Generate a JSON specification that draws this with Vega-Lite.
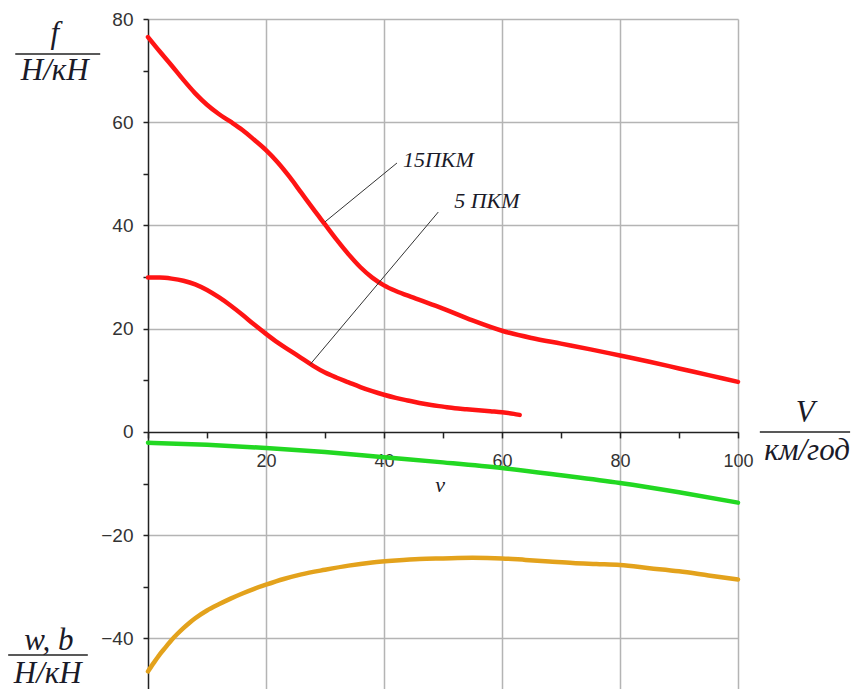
{
  "$schema": "https://vega.github.io/schema/vega-lite/v6.json",
  "width": 590,
  "height": 671,
  "autosize": {"type": "none"},
  "padding": {"left": 148, "top": 19, "right": 118, "bottom": 0},
  "background": "white",
  "view": {"stroke": null},
  "datasets": {
    "curves": [
      {"series": "f15", "x": 0, "y": 76.5}, {"series": "f15", "x": 2, "y": 73.7}, {"series": "f15", "x": 4, "y": 71.0}, {"series": "f15", "x": 6, "y": 68.2}, {"series": "f15", "x": 8, "y": 65.6}, {"series": "f15", "x": 10, "y": 63.4}, {"series": "f15", "x": 12, "y": 61.6}, {"series": "f15", "x": 14, "y": 60.1}, {"series": "f15", "x": 16, "y": 58.5}, {"series": "f15", "x": 18, "y": 56.6}, {"series": "f15", "x": 20, "y": 54.6}, {"series": "f15", "x": 22, "y": 52.2}, {"series": "f15", "x": 24, "y": 49.4}, {"series": "f15", "x": 26, "y": 46.3}, {"series": "f15", "x": 28, "y": 43.2}, {"series": "f15", "x": 30, "y": 40.2}, {"series": "f15", "x": 32, "y": 37.2}, {"series": "f15", "x": 34, "y": 34.4}, {"series": "f15", "x": 36, "y": 31.9}, {"series": "f15", "x": 38, "y": 29.9}, {"series": "f15", "x": 40, "y": 28.4}, {"series": "f15", "x": 42, "y": 27.3}, {"series": "f15", "x": 45, "y": 26.0}, {"series": "f15", "x": 50, "y": 23.9}, {"series": "f15", "x": 55, "y": 21.6}, {"series": "f15", "x": 60, "y": 19.6}, {"series": "f15", "x": 65, "y": 18.2}, {"series": "f15", "x": 70, "y": 17.1}, {"series": "f15", "x": 75, "y": 16.0}, {"series": "f15", "x": 80, "y": 14.8}, {"series": "f15", "x": 85, "y": 13.6}, {"series": "f15", "x": 90, "y": 12.3}, {"series": "f15", "x": 95, "y": 11.0}, {"series": "f15", "x": 100, "y": 9.7},
      {"series": "f5", "x": 0, "y": 29.9}, {"series": "f5", "x": 2, "y": 29.9}, {"series": "f5", "x": 4, "y": 29.7}, {"series": "f5", "x": 6, "y": 29.3}, {"series": "f5", "x": 8, "y": 28.6}, {"series": "f5", "x": 10, "y": 27.5}, {"series": "f5", "x": 12, "y": 26.1}, {"series": "f5", "x": 14, "y": 24.5}, {"series": "f5", "x": 16, "y": 22.7}, {"series": "f5", "x": 18, "y": 20.8}, {"series": "f5", "x": 20, "y": 19.0}, {"series": "f5", "x": 22, "y": 17.3}, {"series": "f5", "x": 24, "y": 15.8}, {"series": "f5", "x": 26, "y": 14.3}, {"series": "f5", "x": 28, "y": 12.8}, {"series": "f5", "x": 30, "y": 11.5}, {"series": "f5", "x": 32, "y": 10.5}, {"series": "f5", "x": 34, "y": 9.6}, {"series": "f5", "x": 36, "y": 8.7}, {"series": "f5", "x": 38, "y": 7.9}, {"series": "f5", "x": 40, "y": 7.2}, {"series": "f5", "x": 42, "y": 6.6}, {"series": "f5", "x": 44, "y": 6.1}, {"series": "f5", "x": 46, "y": 5.6}, {"series": "f5", "x": 48, "y": 5.2}, {"series": "f5", "x": 50, "y": 4.9}, {"series": "f5", "x": 52, "y": 4.6}, {"series": "f5", "x": 54, "y": 4.4}, {"series": "f5", "x": 56, "y": 4.2}, {"series": "f5", "x": 58, "y": 4.0}, {"series": "f5", "x": 60, "y": 3.8}, {"series": "f5", "x": 62, "y": 3.5}, {"series": "f5", "x": 63, "y": 3.3},
      {"series": "w", "x": 0, "y": -2.1}, {"series": "w", "x": 10, "y": -2.5}, {"series": "w", "x": 20, "y": -3.1}, {"series": "w", "x": 30, "y": -3.9}, {"series": "w", "x": 40, "y": -4.9}, {"series": "w", "x": 50, "y": -5.9}, {"series": "w", "x": 60, "y": -7.0}, {"series": "w", "x": 70, "y": -8.4}, {"series": "w", "x": 80, "y": -9.9}, {"series": "w", "x": 90, "y": -11.7}, {"series": "w", "x": 100, "y": -13.7},
      {"series": "b", "x": 0, "y": -46.4}, {"series": "b", "x": 1, "y": -44.7}, {"series": "b", "x": 2, "y": -43.1}, {"series": "b", "x": 3, "y": -41.7}, {"series": "b", "x": 4, "y": -40.3}, {"series": "b", "x": 5, "y": -39.1}, {"series": "b", "x": 6, "y": -38.0}, {"series": "b", "x": 7, "y": -37.0}, {"series": "b", "x": 8, "y": -36.1}, {"series": "b", "x": 10, "y": -34.6}, {"series": "b", "x": 12, "y": -33.4}, {"series": "b", "x": 14, "y": -32.3}, {"series": "b", "x": 16, "y": -31.3}, {"series": "b", "x": 18, "y": -30.4}, {"series": "b", "x": 20, "y": -29.6}, {"series": "b", "x": 23, "y": -28.5}, {"series": "b", "x": 26, "y": -27.6}, {"series": "b", "x": 30, "y": -26.7}, {"series": "b", "x": 34, "y": -25.9}, {"series": "b", "x": 38, "y": -25.3}, {"series": "b", "x": 42, "y": -24.9}, {"series": "b", "x": 46, "y": -24.6}, {"series": "b", "x": 50, "y": -24.5}, {"series": "b", "x": 55, "y": -24.4}, {"series": "b", "x": 60, "y": -24.5}, {"series": "b", "x": 64, "y": -24.8}, {"series": "b", "x": 68, "y": -25.1}, {"series": "b", "x": 72, "y": -25.4}, {"series": "b", "x": 76, "y": -25.6}, {"series": "b", "x": 80, "y": -25.8}, {"series": "b", "x": 85, "y": -26.4}, {"series": "b", "x": 90, "y": -27.0}, {"series": "b", "x": 95, "y": -27.8}, {"series": "b", "x": 100, "y": -28.6}
    ],
    "leaders": [
      {"x": 30, "y": 40.7, "xe": 42.2, "ye": 52.1},
      {"x": 27.5, "y": 13.1, "xe": 49.2, "ye": 42.6}
    ],
    "bars": [
      {"x": -22.5, "xe": -8.1, "y": 73.2},
      {"x": -23.7, "xe": -10.2, "y": -43.2},
      {"x": 103.7, "xe": 119, "y": 0}
    ],
    "titles": [
      {"x": -15.8, "y": 75.3, "t": "f"},
      {"x": -15.8, "y": 68.2, "t": "Н/кН"},
      {"x": -16.8, "y": -42.3, "t": "w, b"},
      {"x": -17.0, "y": -48.6, "t": "Н/кН"},
      {"x": 111.4, "y": 1.9, "t": "V"},
      {"x": 111.7, "y": -5.4, "t": "км/год"}
    ],
    "curveLabels": [
      {"x": 43.2, "y": 51.3, "t": "15ПКМ"},
      {"x": 51.9, "y": 43.4, "t": "5 ПКМ"}
    ],
    "vlabel": [
      {"x": 49.5, "y": -11.6, "t": "v"}
    ]
  },
  "encoding": {
    "x": {
      "field": "x", "type": "quantitative",
      "scale": {"domain": [0, 100], "nice": false, "zero": false},
      "axis": {
        "orient": "bottom", "offset": -258.08, "title": null,
        "values": [0, 10, 20, 30, 40, 50, 60, 70, 80, 90, 100],
        "domainColor": "#222", "domainWidth": 1.5,
        "tickColor": "#222", "tickWidth": 1.5, "tickSize": 6,
        "labelExpr": "(datum.value % 20 == 0 && datum.value > 0) ? datum.label : ''",
        "labelFont": "Liberation Sans", "labelFontSize": 18, "labelColor": "#333",
        "labelPadding": 15, "labelFlush": false, "labelOverlap": false,
        "grid": true, "gridColor": "#b4b4b4", "gridWidth": 1.5,
        "gridOpacity": {"condition": {"test": "datum.value % 20 == 0 && datum.value > 0", "value": 1}, "value": 0}
      }
    },
    "y": {
      "field": "y", "type": "quantitative",
      "scale": {"domain": [-50, 80], "nice": false, "zero": false},
      "axis": {
        "title": null,
        "values": [-50, -40, -30, -20, -10, 0, 10, 20, 30, 40, 50, 60, 70, 80],
        "domainColor": "#222", "domainWidth": 1.5,
        "tickColor": "#222", "tickWidth": 1.5, "tickSize": 5,
        "labelExpr": "datum.value % 20 == 0 ? datum.label : ''",
        "labelFont": "Liberation Sans", "labelFontSize": 19, "labelColor": "#333",
        "labelPadding": 10, "labelFlush": false, "labelOverlap": false,
        "grid": true, "gridColor": "#b4b4b4", "gridWidth": 1.5,
        "gridOpacity": {"condition": {"test": "datum.value % 20 == 0 && datum.value != 0", "value": 1}, "value": 0}
      }
    }
  },
  "layer": [
    {
      "data": {"name": "curves"},
      "mark": {"type": "line", "strokeWidth": 4.5, "strokeCap": "round", "strokeJoin": "round", "interpolate": "monotone"},
      "encoding": {
        "detail": {"field": "series", "type": "nominal"},
        "color": {
          "field": "series", "type": "nominal",
          "scale": {"domain": ["f15", "f5", "w", "b"], "range": ["#ff1414", "#ff1414", "#22d822", "#e3a21c"]},
          "legend": null
        }
      }
    },
    {
      "data": {"name": "leaders"},
      "mark": {"type": "rule", "color": "#333", "strokeWidth": 1},
      "encoding": {
        "x2": {"field": "xe"},
        "y2": {"field": "ye"}
      }
    },
    {
      "data": {"name": "bars"},
      "mark": {"type": "rule", "color": "#222", "strokeWidth": 1.5},
      "encoding": {
        "x2": {"field": "xe"}
      }
    },
    {
      "data": {"name": "titles"},
      "mark": {"type": "text", "font": "Liberation Serif", "fontStyle": "italic", "fontSize": 31, "color": "#1a1a28", "align": "center", "baseline": "alphabetic"},
      "encoding": {"text": {"field": "t"}}
    },
    {
      "data": {"name": "curveLabels"},
      "mark": {"type": "text", "font": "Liberation Serif", "fontStyle": "italic", "fontSize": 22, "color": "#1a1a28", "align": "left", "baseline": "alphabetic"},
      "encoding": {"text": {"field": "t"}}
    },
    {
      "data": {"name": "vlabel"},
      "mark": {"type": "text", "font": "Liberation Serif", "fontStyle": "italic", "fontSize": 22, "color": "#1a1a28", "align": "center", "baseline": "alphabetic"},
      "encoding": {"text": {"field": "t"}}
    }
  ]
}
